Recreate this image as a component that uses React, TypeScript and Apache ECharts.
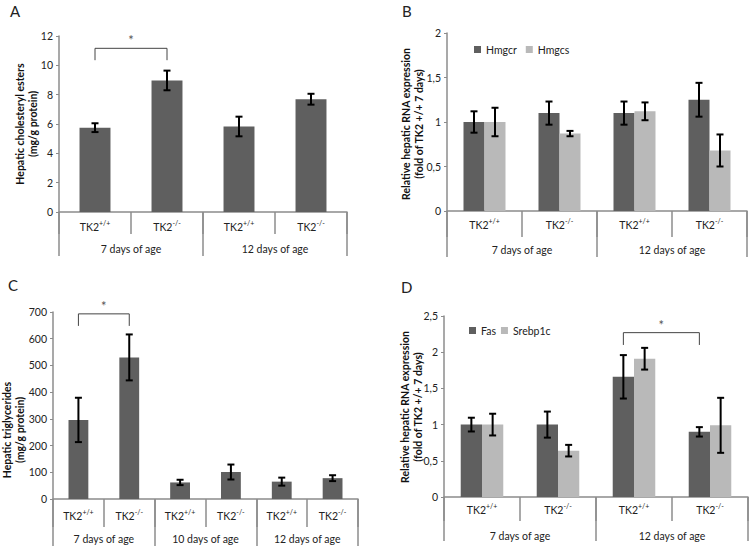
import React, { useEffect, useRef } from "react";
import * as echarts from "echarts";

// ---------- data ----------
const catsA = ["TK2+/+", "TK2-/-", "TK2+/+", "TK2-/-"];
const groupsA = ["7 days of age", "12 days of age"];
const cholEsters = [5.75, 8.97, 5.83, 7.69];
const cholEstersErr = [0.3, 0.67, 0.67, 0.37];

const catsB = ["TK2+/+", "TK2-/-", "TK2+/+", "TK2-/-"];
const groupsB = ["7 days of age", "12 days of age"];
const hmgcr = [1.0, 1.1, 1.1, 1.25];
const hmgcrErr = [0.12, 0.13, 0.13, 0.19];
const hmgcs = [1.0, 0.87, 1.12, 0.68];
const hmgcsErr = [0.16, 0.03, 0.1, 0.18];

const catsC = ["TK2+/+", "TK2-/-", "TK2+/+", "TK2-/-", "TK2+/+", "TK2-/-"];
const groupsC = ["7 days of age", "10 days of age", "12 days of age"];
const triglycerides = [296, 530, 62, 101, 65, 78];
const triglyceridesErr = [83, 86, 10, 28, 15, 11];

const catsD = ["TK2+/+", "TK2-/-", "TK2+/+", "TK2-/-"];
const groupsD = ["7 days of age", "12 days of age"];
const fas = [1.0, 1.0, 1.66, 0.9];
const fasErr = [0.095, 0.18, 0.3, 0.065];
const srebp1c = [1.0, 0.64, 1.91, 0.99];
const srebp1cErr = [0.15, 0.08, 0.15, 0.38];

// significance brackets: [fromCat, toCat, topValue, dropValue]
const bracketA = [0, 1, 11.16, 10.35];
const bracketC = [0, 1, 693, 648];
const bracketD = [2, 3, 2.27, 2.1];

const DARK = "#5f5f5f";
const LIGHT = "#b9b9b9";
const AXIS = "#8c8c8c";
const FONT = "Lato";

function catFormatter(v: string) {
  const m = v.match(/^TK2(.*)$/);
  return m ? "{b|TK2}{s|" + m[1] + "}" : v;
}

const richLabel = {
  b: { fontSize: 10.5, fontFamily: FONT, color: "#222", lineHeight: 13, verticalAlign: "bottom" },
  s: { fontSize: 7, fontFamily: FONT, color: "#222", lineHeight: 9, verticalAlign: "top" },
};

function catAxis(grid: number, data: string[], tickLen: number, margin: number) {
  return {
    type: "category",
    gridIndex: grid,
    data,
    position: "bottom",
    axisLine: { show: true, lineStyle: { color: AXIS, width: 1.5 } },
    axisTick: { show: true, interval: 0, length: tickLen, lineStyle: { color: AXIS, width: 1.5 } },
    axisLabel: { interval: 0, margin, formatter: catFormatter, rich: richLabel },
  };
}

function groupAxis(grid: number, data: string[], tickLen: number, margin: number) {
  return {
    type: "category",
    gridIndex: grid,
    data,
    position: "bottom",
    axisLine: { show: false },
    axisTick: { show: true, interval: 0, length: tickLen, lineStyle: { color: AXIS, width: 1.5 } },
    axisLabel: { interval: 0, margin, fontSize: 10.5, fontFamily: FONT, color: "#222" },
  };
}

function valAxis(grid: number, max: number, interval: number) {
  return {
    type: "value",
    gridIndex: grid,
    min: 0,
    max,
    interval,
    axisLine: { show: true, lineStyle: { color: AXIS, width: 1.5 } },
    axisTick: { show: true, length: 3, lineStyle: { color: AXIS } },
    splitLine: { show: false },
    axisLabel: {
      fontSize: 10.5,
      fontFamily: FONT,
      color: "#222",
      margin: 6,
      formatter: (v: number) => String(v).replace(".", ","),
    },
  };
}

function barSeries(name: string, xi: number, yi: number, data: number[], color: string, width: string) {
  return {
    type: "bar",
    name,
    xAxisIndex: xi,
    yAxisIndex: yi,
    data,
    barWidth: width,
    barGap: "0%",
    itemStyle: { color },
    silent: true,
  };
}

function errSeries(xi: number, yi: number, vals: number[], errs: number[], off: number) {
  return {
    type: "custom",
    xAxisIndex: xi,
    yAxisIndex: yi,
    silent: true,
    z: 5,
    data: vals.map((v, i) => [i, v, errs[i]]),
    encode: { x: 0, y: 1 },
    renderItem: (params: any, api: any) => {
      const idx = api.value(0);
      const v = api.value(1);
      const e = api.value(2);
      const band = api.size([1, 0])[0];
      const x = api.coord([idx, v])[0] + off * band;
      const yt = api.coord([idx, v + e])[1];
      const yb = api.coord([idx, v - e])[1];
      const st = { stroke: "#000", lineWidth: 2 };
      return {
        type: "group",
        children: [
          { type: "line", shape: { x1: x, y1: yt, x2: x, y2: yb }, style: st },
          { type: "line", shape: { x1: x - 3.5, y1: yt, x2: x + 3.5, y2: yt }, style: st },
          { type: "line", shape: { x1: x - 3.5, y1: yb, x2: x + 3.5, y2: yb }, style: st },
        ],
      };
    },
  };
}

function bracketSeries(xi: number, yi: number, b: number[], off: number) {
  return {
    type: "custom",
    xAxisIndex: xi,
    yAxisIndex: yi,
    silent: true,
    z: 6,
    data: [[b[0], b[2], b[1], b[3]]],
    encode: { x: 0, y: 1 },
    renderItem: (params: any, api: any) => {
      const band = api.size([1, 0])[0];
      const x1 = api.coord([api.value(0), 0])[0] + off * band;
      const x2 = api.coord([api.value(2), 0])[0] + off * band;
      const yTop = api.coord([api.value(0), api.value(1)])[1];
      const yDrop = api.coord([api.value(0), api.value(3)])[1];
      return {
        type: "group",
        children: [
          {
            type: "polyline",
            shape: { points: [[x1, yDrop], [x1, yTop], [x2, yTop], [x2, yDrop]] },
            style: { stroke: "#444", lineWidth: 1, fill: null },
          },
          {
            type: "text",
            x: (x1 + x2) / 2,
            y: yTop - 8,
            style: { text: "*", fontSize: 13, fontFamily: FONT, fill: "#555", align: "center", verticalAlign: "middle" },
          },
        ],
      };
    },
  };
}

function yTitle(x: number, y: number, text: string) {
  return {
    type: "text",
    x,
    y,
    rotation: Math.PI / 2,
    style: {
      text,
      fontSize: 10.5,
      fontWeight: "bold",
      fontFamily: FONT,
      fill: "#111",
      align: "center",
      verticalAlign: "middle",
      lineHeight: 13,
    },
  };
}

function panelLetter(x: number, y: number, text: string) {
  return {
    type: "text",
    x,
    y,
    style: { text, fontSize: 15, fontFamily: FONT, fill: "#222" },
  };
}

export default function App() {
  const ref = useRef<HTMLDivElement>(null);
  useEffect(() => {
    if (!ref.current) return;
    const chart = echarts.init(ref.current, undefined, { renderer: "svg" });
    chart.setOption({
      animation: false,
      backgroundColor: "#fff",
      textStyle: { fontFamily: FONT },
      grid: [
        { left: 59, top: 36, width: 288, height: 176 },
        { left: 447, top: 33, width: 300, height: 178 },
        { left: 53, top: 312, width: 305, height: 187 },
        { left: 444, top: 316, width: 304, height: 181 },
      ],
      xAxis: [
        catAxis(0, catsA, 22, 7),
        groupAxis(0, groupsA, 44, 31),
        catAxis(1, catsB, 26, 6),
        groupAxis(1, groupsB, 46, 33),
        catAxis(2, catsC, 28, 9),
        groupAxis(2, groupsC, 47, 34),
        catAxis(3, catsD, 24, 5),
        groupAxis(3, groupsD, 44, 33),
      ],
      yAxis: [valAxis(0, 12, 2), valAxis(1, 2, 0.5), valAxis(2, 700, 100), valAxis(3, 2.5, 0.5)],
      legend: [
        {
          data: ["Hmgcr", "Hmgcs"],
          left: 469,
          top: 39,
          icon: "rect",
          itemWidth: 7,
          itemHeight: 7,
          itemGap: 9,
          textStyle: { fontSize: 10.5, fontFamily: FONT, color: "#222" },
          selectedMode: false,
        },
        {
          data: ["Fas", "Srebp1c"],
          left: 464,
          top: 320,
          icon: "rect",
          itemWidth: 7,
          itemHeight: 7,
          itemGap: 5,
          textStyle: { fontSize: 10.5, fontFamily: FONT, color: "#222" },
          selectedMode: false,
        },
      ],
      series: [
        barSeries("Cholesteryl esters", 0, 0, cholEsters, DARK, "43%"),
        errSeries(0, 0, cholEsters, cholEstersErr, 0),
        bracketSeries(0, 0, bracketA, 0),

        barSeries("Hmgcr", 2, 1, hmgcr, DARK, "28%"),
        barSeries("Hmgcs", 2, 1, hmgcs, LIGHT, "28%"),
        errSeries(2, 1, hmgcr, hmgcrErr, -0.14),
        errSeries(2, 1, hmgcs, hmgcsErr, 0.14),

        barSeries("Triglycerides", 4, 2, triglycerides, DARK, "39%"),
        errSeries(4, 2, triglycerides, triglyceridesErr, 0),
        bracketSeries(4, 2, bracketC, 0),

        barSeries("Fas", 6, 3, fas, DARK, "28%"),
        barSeries("Srebp1c", 6, 3, srebp1c, LIGHT, "28%"),
        errSeries(6, 3, fas, fasErr, -0.14),
        errSeries(6, 3, srebp1c, srebp1cErr, 0.14),
        bracketSeries(6, 3, bracketD, -0.14),
      ],
      graphic: [
        panelLetter(10, 3, "A"),
        panelLetter(402, 3, "B"),
        panelLetter(8, 277, "C"),
        panelLetter(401, 279, "D"),
        yTitle(26, 124, "Hepatic cholesteryl esters\n(mg/g protein)"),
        yTitle(412, 124, "Relative hepatic RNA expression\n(fold of TK2 +/+ 7 days)"),
        yTitle(13, 430, "Hepatic triglycerides\n(mg/g protein)"),
        yTitle(411, 407, "Relative hepatic RNA expression\n(fold of TK2 +/+ 7 days)"),
      ],
    });
    return () => chart.dispose();
  }, []);
  return (
    <div
      ref={ref}
      style={{ position: "fixed", left: 0, top: 0, width: 752, height: 548, background: "#fff" }}
    />
  );
}
